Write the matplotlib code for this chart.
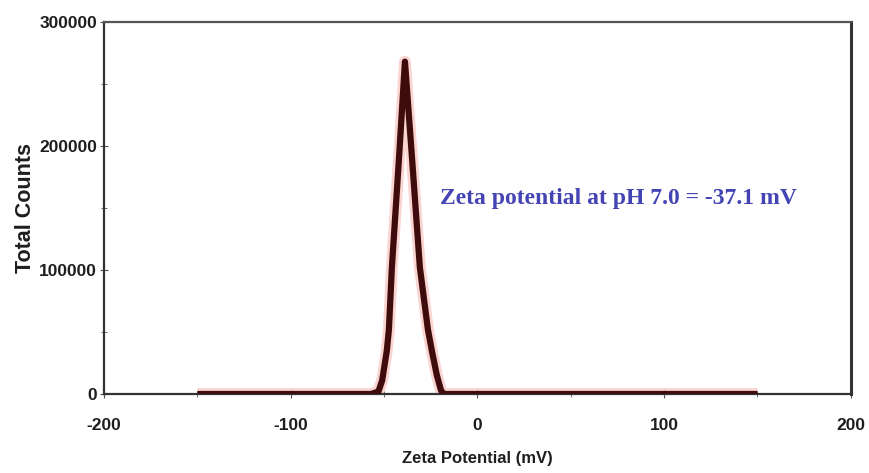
import matplotlib
matplotlib.use('Agg')
import matplotlib.pyplot as plt
from matplotlib.ticker import MultipleLocator

# zeta potential distribution
zeta = [-150, -57, -53, -51, -48.5, -47.4, -45.8, -42, -38.8, -35, -30.8, -26.5, -24.4, -21.7, -19.5, -18, 150]
counts = [0, 0, 2000, 11000, 35000, 52000, 102000, 190000, 268000, 190000, 102000, 52000, 35000, 15000, 3000, 0, 0]

xticks = [-200, -100, 0, 100, 200]
yticks = [0, 100000, 200000, 300000]
note = 'Zeta potential at pH 7.0 = -37.1 mV'

plt.rcParams['font.family'] = ['Liberation Sans', 'DejaVu Sans']
plt.rcParams['axes.unicode_minus'] = False

fig = plt.figure(figsize=(8.69, 4.73), dpi=100)
ax = fig.add_axes([0.1197, 0.167, 0.8593, 0.7865])

# soft red glow under the dark trace
ax.plot(zeta, counts, color='#f3a09a', lw=8.5, alpha=0.45, solid_capstyle='butt', zorder=2)
ax.plot(zeta, counts, color='#3e0c0c', lw=4.5, solid_joinstyle='round', solid_capstyle='butt', zorder=3)

ax.set_xlim(-200, 200)
ax.set_ylim(0, 300000)
ax.set_xticks(xticks)
ax.set_yticks(yticks)
ax.xaxis.set_minor_locator(MultipleLocator(50))
ax.yaxis.set_minor_locator(MultipleLocator(50000))
ax.tick_params(which='both', direction='inout', color='#555555')
ax.tick_params(which='major', length=6, labelsize=12.5)
ax.tick_params(which='minor', length=5)
ax.tick_params(axis='x', which='major', pad=14)
ax.tick_params(axis='y', which='major', pad=2)
for lab in ax.get_xticklabels() + ax.get_yticklabels():
    lab.set_fontweight('bold')
    lab.set_color('#1e1e1e')

for s in ax.spines.values():
    s.set_linewidth(1.6)
    s.set_color('#333333')
ax.spines['top'].set_color('#555555')
ax.spines['right'].set_linewidth(2.2)

ax.set_xlabel('Zeta Potential (mV)', fontsize=12, fontweight='bold', color='#1e1e1e', labelpad=13)
ax.set_ylabel('Total Counts', fontsize=15.5, fontweight='bold', color='#1e1e1e', labelpad=2)

ax.text(-20, 158000, note, family=['Liberation Serif', 'DejaVu Serif'], fontsize=17,
        fontweight='bold', color='#4444b4', va='center', ha='left')

fig.savefig('out.png', dpi=100)
